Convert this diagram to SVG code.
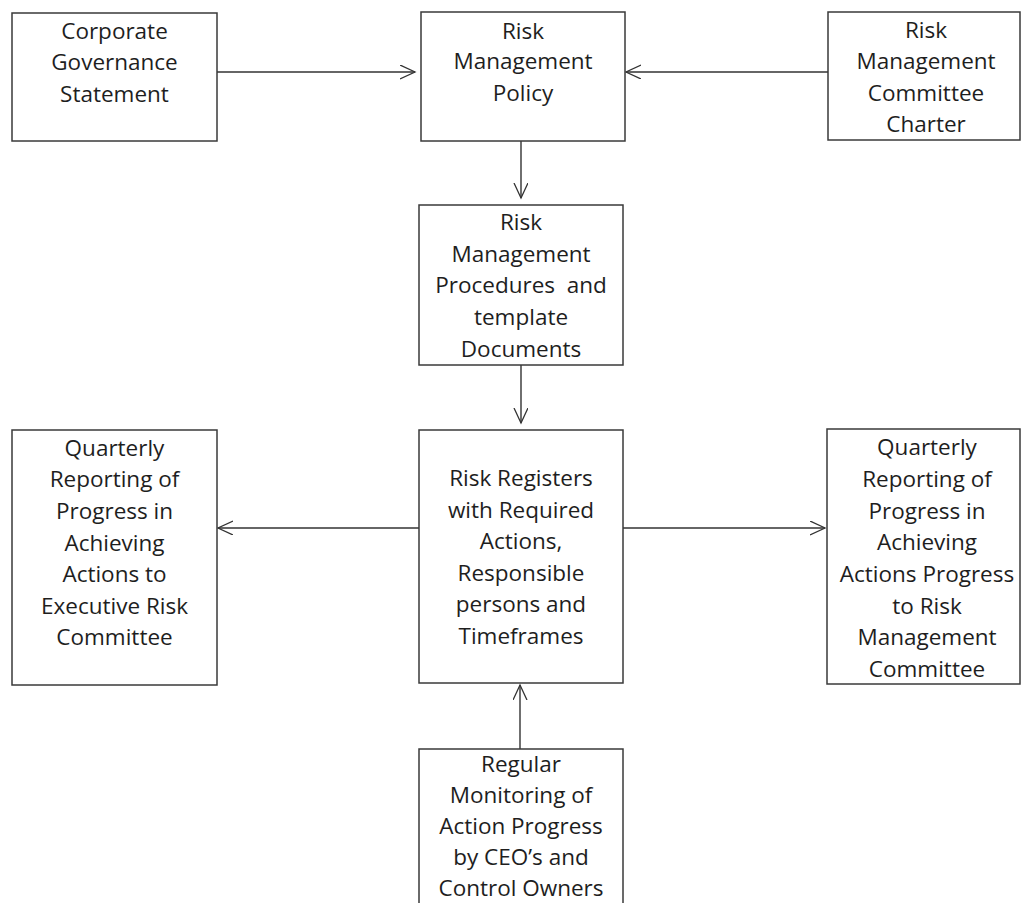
<svg xmlns="http://www.w3.org/2000/svg" width="1021" height="903" viewBox="0 0 1021 903">
<style>
.box{fill:#fff;stroke:#3a3a3a;stroke-width:1.5}
.t{font-family:"Open Sans","Noto Sans",sans-serif;font-size:22.5px;fill:#1e1e1e;text-anchor:middle}
.c{stroke:#333;stroke-width:1.4;fill:none}
</style>
<defs>
<marker id="ah" markerUnits="userSpaceOnUse" markerWidth="18" markerHeight="16" refX="15" refY="7" orient="auto">
<path d="M0,0 L15,7 L0,14" fill="none" stroke="#333" stroke-width="1.3"/>
</marker>
</defs>
<rect width="1021" height="903" fill="#fff"/>
<g id="connectors">
<line class="c" x1="217" y1="72" x2="415" y2="72" marker-end="url(#ah)"/>
<line class="c" x1="828" y1="72" x2="626" y2="72" marker-end="url(#ah)"/>
<line class="c" x1="521" y1="141" x2="521" y2="198" marker-end="url(#ah)"/>
<line class="c" x1="521" y1="365" x2="521" y2="423" marker-end="url(#ah)"/>
<line class="c" x1="419" y1="528" x2="218" y2="528" marker-end="url(#ah)"/>
<line class="c" x1="623" y1="528" x2="825" y2="528" marker-end="url(#ah)"/>
<line class="c" x1="520" y1="749" x2="520" y2="685" marker-end="url(#ah)"/>
</g>
<g id="corporate-governance">
<rect class="box" x="12" y="13" width="205" height="128"/>
<text class="t" x="114.5" y="39">Corporate</text>
<text class="t" x="114.5" y="70">Governance</text>
<text class="t" x="114.5" y="102">Statement</text>
</g>
<g id="rm-policy">
<rect class="box" x="421" y="12" width="204" height="129"/>
<text class="t" x="523" y="39">Risk</text>
<text class="t" x="523" y="69">Management</text>
<text class="t" x="523" y="101">Policy</text>
</g>
<g id="rm-charter">
<rect class="box" x="828" y="12" width="192" height="128"/>
<text class="t" x="926" y="38">Risk</text>
<text class="t" x="926" y="69">Management</text>
<text class="t" x="926" y="101">Committee</text>
<text class="t" x="926" y="132">Charter</text>
</g>
<g id="rm-procedures">
<rect class="box" x="419" y="205" width="204" height="160"/>
<text class="t" x="521" y="230">Risk</text>
<text class="t" x="521" y="262">Management</text>
<text class="t" x="521" y="293" xml:space="preserve">Procedures  and</text>
<text class="t" x="521" y="325">template</text>
<text class="t" x="521" y="357">Documents</text>
</g>
<g id="risk-registers">
<rect class="box" x="419" y="430" width="204" height="253"/>
<text class="t" x="521" y="486">Risk Registers</text>
<text class="t" x="521" y="518">with Required</text>
<text class="t" x="521" y="549">Actions,</text>
<text class="t" x="521" y="581">Responsible</text>
<text class="t" x="521" y="612">persons and</text>
<text class="t" x="521" y="644">Timeframes</text>
</g>
<g id="quarterly-executive">
<rect class="box" x="12" y="430" width="205" height="255"/>
<text class="t" x="114.5" y="456">Quarterly</text>
<text class="t" x="114.5" y="487">Reporting of</text>
<text class="t" x="114.5" y="519">Progress in</text>
<text class="t" x="114.5" y="551">Achieving</text>
<text class="t" x="114.5" y="582">Actions to</text>
<text class="t" x="114.5" y="614">Executive Risk</text>
<text class="t" x="114.5" y="645">Committee</text>
</g>
<g id="quarterly-rmc">
<rect class="box" x="827" y="429" width="193" height="255"/>
<text class="t" x="927" y="455">Quarterly</text>
<text class="t" x="927" y="487">Reporting of</text>
<text class="t" x="927" y="519">Progress in</text>
<text class="t" x="927" y="550">Achieving</text>
<text class="t" x="927" y="582">Actions Progress</text>
<text class="t" x="927" y="614">to Risk</text>
<text class="t" x="927" y="645">Management</text>
<text class="t" x="927" y="677">Committee</text>
</g>
<g id="regular-monitoring">
<rect class="box" x="419" y="749" width="204" height="170"/>
<text class="t" x="521" y="772">Regular</text>
<text class="t" x="521" y="803">Monitoring of</text>
<text class="t" x="521" y="834">Action Progress</text>
<text class="t" x="521" y="865">by CEO’s and</text>
<text class="t" x="521" y="896">Control Owners</text>
</g>
</svg>
